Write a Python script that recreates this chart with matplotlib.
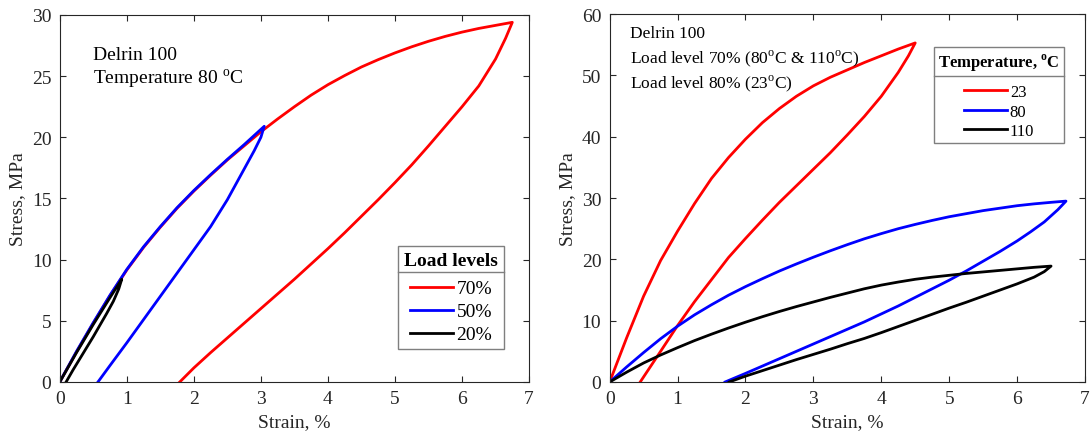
import numpy as np
import matplotlib
matplotlib.use("Agg")
import matplotlib.pyplot as plt
from matplotlib.lines import Line2D

# ==== DATA (strain %, stress MPa; loading branch then unloading branch) ====
# Delrin 100 at 80 C, three load levels
load70_strain = [0, 0.25, 0.5, 0.75, 1.0, 1.25, 1.5, 1.75, 2.0, 2.25, 2.5, 2.75, 3.0, 3.25, 3.5, 3.75,
                 4.0, 4.25, 4.5, 4.75, 5.0, 5.25, 5.5, 5.75, 6.0, 6.25, 6.5, 6.75,
                 6.65, 6.5, 6.25, 6.0, 5.75, 5.5, 5.25, 5.0, 4.75, 4.5, 4.25, 4.0, 3.75, 3.5, 3.25,
                 3.0, 2.75, 2.5, 2.25, 2.0, 1.79]
load70_stress = [0, 2.45, 4.8, 7.05, 9.15, 11.0, 12.65, 14.2, 15.6, 16.9, 18.15, 19.3, 20.45, 21.5, 22.5, 23.45,
                 24.3, 25.05, 25.75, 26.35, 26.9, 27.4, 27.85, 28.25, 28.6, 28.9, 29.15, 29.4,
                 28.1, 26.4, 24.2, 22.5, 20.9, 19.3, 17.75, 16.3, 14.9, 13.55, 12.2, 10.9, 9.65, 8.4, 7.2,
                 6.0, 4.8, 3.6, 2.4, 1.15, 0]

load50_strain = [0, 0.25, 0.5, 0.75, 1.0, 1.25, 1.5, 1.75, 2.0, 2.25, 2.5, 2.75, 3.05,
                 3.0, 2.9, 2.75, 2.5, 2.25, 2.0, 1.75, 1.5, 1.25, 1.0, 0.75, 0.57]
load50_stress = [0, 2.5, 4.85, 7.1, 9.2, 11.05, 12.7, 14.25, 15.65, 16.95, 18.2, 19.4, 20.9,
                 20.0, 18.9, 17.4, 14.9, 12.7, 10.8, 8.9, 7.0, 5.1, 3.2, 1.35, 0]

load20_strain = [0, 0.25, 0.5, 0.75, 0.925, 0.88, 0.8, 0.7, 0.6, 0.5, 0.4, 0.3, 0.2, 0.095]
load20_stress = [0, 2.4, 4.7, 6.9, 8.4, 7.6, 6.6, 5.6, 4.65, 3.7, 2.8, 1.9, 1.0, 0]

# Delrin 100 at three temperatures
t23_strain = [0, 0.25, 0.5, 0.75, 1.0, 1.25, 1.5, 1.75, 2.0, 2.25, 2.5, 2.75, 3.0, 3.25, 3.5, 3.75,
              4.0, 4.25, 4.5,
              4.4, 4.25, 4.0, 3.75, 3.5, 3.25, 3.0, 2.75, 2.5, 2.25, 2.0, 1.75, 1.5, 1.25, 1.0,
              0.75, 0.45]
t23_stress = [0, 7.2, 14.0, 19.8, 24.6, 29.1, 33.2, 36.6, 39.6, 42.3, 44.6, 46.6, 48.3, 49.7, 50.9, 52.1,
              53.2, 54.3, 55.3,
              53.2, 50.5, 46.6, 43.3, 40.3, 37.4, 34.7, 32.0, 29.3, 26.4, 23.4, 20.3, 16.7, 13.1, 9.2,
              5.0, 0]

t80_strain = [0, 0.25, 0.5, 0.75, 1.0, 1.25, 1.5, 1.75, 2.0, 2.25, 2.5, 2.75, 3.0, 3.25, 3.5, 3.75,
              4.0, 4.25, 4.5, 4.75, 5.0, 5.25, 5.5, 5.75, 6.0, 6.25, 6.5, 6.72,
              6.6, 6.4, 6.2, 6.0, 5.75, 5.5, 5.25, 5.0, 4.75, 4.5, 4.25, 4.0, 3.75, 3.5, 3.25,
              3.0, 2.75, 2.5, 2.25, 2.0, 1.70]
t80_stress = [0, 2.45, 4.8, 7.05, 9.1, 10.95, 12.6, 14.15, 15.55, 16.85, 18.1, 19.25, 20.35, 21.4, 22.4, 23.35,
              24.2, 25.0, 25.7, 26.35, 26.95, 27.45, 27.95, 28.35, 28.75, 29.05, 29.3, 29.5,
              28.1, 26.1, 24.5, 23.0, 21.3, 19.7, 18.1, 16.6, 15.2, 13.8, 12.4, 11.1, 9.8, 8.6, 7.4,
              6.2, 5.0, 3.8, 2.6, 1.4, 0]

t110_strain = [0, 0.25, 0.5, 0.75, 1.0, 1.25, 1.5, 1.75, 2.0, 2.25, 2.5, 2.75, 3.0, 3.25, 3.5, 3.75,
               4.0, 4.25, 4.5, 4.75, 5.0, 5.25, 5.5, 5.75, 6.0, 6.25, 6.5,
               6.4, 6.25, 6.0, 5.75, 5.5, 5.25, 5.0, 4.75, 4.5, 4.25, 4.0, 3.75, 3.5, 3.25, 3.0,
               2.75, 2.5, 2.25, 2.0, 1.76]
t110_stress = [0, 1.6, 3.1, 4.4, 5.6, 6.75, 7.8, 8.8, 9.75, 10.65, 11.5, 12.3, 13.05, 13.8, 14.5, 15.2,
               15.8, 16.3, 16.75, 17.1, 17.4, 17.7, 17.95, 18.2, 18.45, 18.7, 18.9,
               18.0, 17.1, 16.0, 15.0, 14.0, 13.0, 12.05, 11.05, 10.05, 9.05, 8.05, 7.1, 6.25, 5.35, 4.5,
               3.65, 2.75, 1.85, 0.95, 0]

left_labels = ["70%", "50%", "20%"]
right_labels = ["23", "80", "110"]

# ==== STYLE ====
plt.rcParams["font.family"] = ["Liberation Serif", "DejaVu Serif"]
plt.rcParams["mathtext.fontset"] = "custom"
plt.rcParams["mathtext.rm"] = "Liberation Serif"
plt.rcParams["mathtext.bf"] = "Liberation Serif:bold"

DARK = "#262626"
LW = 2.0

fig = plt.figure(figsize=(10.92, 4.39), dpi=100)
ax1 = fig.add_axes([0.0547, 0.1276, 0.4298, 0.836])
ax2 = fig.add_axes([0.5583, 0.1276, 0.4353, 0.838])


def style_axes(ax, ymax, ystep):
    ax.set_xlim(0, 7)
    ax.set_ylim(0, ymax)
    ax.set_xticks(np.arange(0, 8, 1))
    ax.set_yticks(np.arange(0, ymax + 1, ystep))
    ax.tick_params(direction="in", top=True, right=True, length=4, width=0.8,
                   colors=DARK, labelsize=14, pad=6)
    for sp in ax.spines.values():
        sp.set_color(DARK)
        sp.set_linewidth(0.8)
    ax.set_xlabel("Strain, %", fontsize=14, color=DARK, labelpad=4)
    ax.set_ylabel("Stress, MPa", fontsize=14, color=DARK, labelpad=4)


def add_separator(leg):
    # horizontal rule under the legend title
    fig.canvas.draw()
    r = fig.canvas.get_renderer()
    fb = leg.get_frame().get_window_extent(r)
    tb = leg.get_title().get_window_extent(r)
    y = tb.y0 - 3
    inv = fig.transFigure.inverted()
    (x0, yf), (x1, _) = inv.transform([(fb.x0, y), (fb.x1, y)])
    fig.add_artist(Line2D([x0, x1], [yf, yf], color="#7f7f7f", lw=1.0,
                          transform=fig.transFigure))


# ==== LEFT PANEL: load levels ====
style_axes(ax1, 30, 5)
ax1.plot(load70_strain, load70_stress, color="red", lw=LW, label=left_labels[0], solid_joinstyle="round")
ax1.plot(load50_strain, load50_stress, color="blue", lw=LW, label=left_labels[1], solid_joinstyle="round")
ax1.plot(load20_strain, load20_stress, color="black", lw=LW, label=left_labels[2], solid_joinstyle="round")
ax1.text(0.49, 26.4, "Delrin 100", fontsize=14, va="baseline")
ax1.text(0.49, 24.4, r"Temperature 80 $^{\rm o}$C", fontsize=14, va="baseline")

leg1 = ax1.legend(loc="upper right", bbox_to_anchor=(0.946, 0.371), borderaxespad=0,
                  title="Load levels", title_fontproperties={"weight": "bold", "size": 14},
                  fontsize=14, handlelength=2.2, handletextpad=0.2, labelspacing=0.28,
                  borderpad=0.3, fancybox=False, framealpha=1, edgecolor="#7f7f7f")
leg1.get_frame().set_linewidth(1.0)
leg1._legend_box.sep = 8

# ==== RIGHT PANEL: temperatures ====
style_axes(ax2, 60, 10)
ax2.plot(t23_strain, t23_stress, color="red", lw=LW, label=right_labels[0], solid_joinstyle="round")
ax2.plot(t80_strain, t80_stress, color="blue", lw=LW, label=right_labels[1], solid_joinstyle="round")
ax2.plot(t110_strain, t110_stress, color="black", lw=LW, label=right_labels[2], solid_joinstyle="round")
ax2.text(0.30, 56.2, "Delrin 100", fontsize=12.5, va="baseline")
ax2.text(0.30, 52.2, r"Load level 70% (80$^{\rm o}$C & 110$^{\rm o}$C)", fontsize=12.5, va="baseline")
ax2.text(0.30, 48.1, r"Load level 80% (23$^{\rm o}$C)", fontsize=12.5, va="baseline")

leg2 = ax2.legend(loc="upper right", bbox_to_anchor=(0.956, 0.91), borderaxespad=0,
                  title=r"Temperature, $^{\mathbf{o}}$C",
                  title_fontproperties={"weight": "bold", "size": 12},
                  fontsize=12, handlelength=2.6, handletextpad=0.15, labelspacing=0.22,
                  borderpad=0.25, fancybox=False, framealpha=1, edgecolor="#7f7f7f")
leg2.get_frame().set_linewidth(1.0)
leg2._legend_box.sep = 8

add_separator(leg1)
add_separator(leg2)

fig.savefig("out.png", dpi=100)
